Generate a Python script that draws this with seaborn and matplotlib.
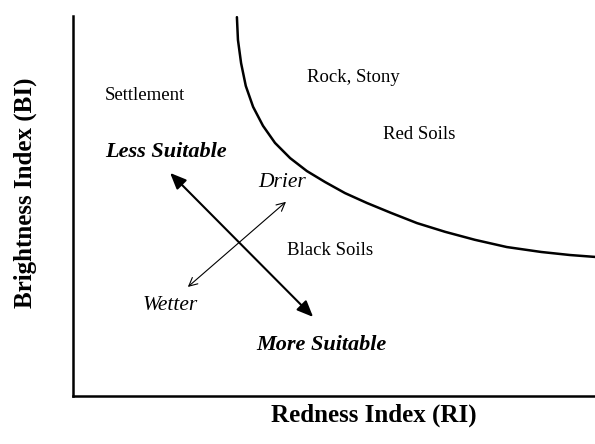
import matplotlib
matplotlib.use("Agg")
import matplotlib.pyplot as plt
import pandas as pd
import seaborn as sns

# ── Boundary curve (RI vs BI, 0-100 index units) ─────────────────────────────
curve_ri = [31.4, 31.6, 32.2, 33.1, 34.5, 36.4, 38.7, 41.6, 44.8, 48.3,
            52.1, 56.3, 60.9, 65.9, 71.3, 77.0, 83.1, 89.7, 95.2, 100.0]
curve_bi = [99.7, 93.7, 87.6, 81.6, 76.1, 71.1, 66.6, 62.6, 59.2, 56.3,
            53.4, 50.8, 48.2, 45.5, 43.2, 41.1, 39.2, 37.9, 37.1, 36.6]

# ── Arrows: suitability (thick) and moisture (thin) ──────────────────────────
suit_ri = [18.6, 46.0]
suit_bi = [58.7, 20.8]
moist_ri = [22.0, 40.8]
moist_bi = [28.7, 51.1]

# ── Region / direction labels ────────────────────────────────────────────────
labels = ["Settlement", "Rock, Stony", "Red Soils", "Black Soils",
          "Less Suitable", "More Suitable", "Drier", "Wetter"]
label_ri = [6.1, 44.8, 59.4, 41.0, 6.1, 35.2, 35.4, 13.4]
label_bi = [79.0, 83.9, 68.9, 38.4, 64.2, 13.4, 56.3, 23.9]

styles = {
    "Settlement": dict(fontsize=13.5),
    "Rock, Stony": dict(fontsize=13.5),
    "Red Soils": dict(fontsize=13.5),
    "Black Soils": dict(fontsize=13.5),
    "Less Suitable": dict(fontsize=16, fontweight="bold", fontstyle="italic"),
    "More Suitable": dict(fontsize=16, fontweight="bold", fontstyle="italic"),
    "Drier": dict(fontsize=15.5, fontstyle="italic"),
    "Wetter": dict(fontsize=15.5, fontstyle="italic"),
}

sns.set_theme(style="white")
plt.rcParams["font.family"] = ["Liberation Serif", "DejaVu Serif"]

fig = plt.figure(figsize=(5.95, 4.44), dpi=100)
ax = fig.add_axes([73 / 595, 48 / 444, 522 / 595, 380 / 444])

df = pd.DataFrame({"RI": curve_ri, "BI": curve_bi})
sns.lineplot(data=df, x="RI", y="BI", sort=False, color="black", linewidth=1.8,
             solid_joinstyle="round", solid_capstyle="round", ax=ax)

ax.annotate("", xy=(suit_ri[0], suit_bi[0]), xytext=(suit_ri[1], suit_bi[1]),
            arrowprops=dict(arrowstyle="<|-|>,head_length=0.75,head_width=0.32",
                            mutation_scale=13, color="black", lw=1.5,
                            shrinkA=0, shrinkB=0))
ax.annotate("", xy=(moist_ri[0], moist_bi[0]), xytext=(moist_ri[1], moist_bi[1]),
            arrowprops=dict(arrowstyle="<->,head_length=0.6,head_width=0.3",
                            mutation_scale=10, color="black", lw=0.8,
                            shrinkA=0, shrinkB=0))

for name, x, y in zip(labels, label_ri, label_bi):
    ax.text(x, y, name, ha="left", va="center", color="black", **styles[name])

ax.set_xlim(0, 100)
ax.set_ylim(0, 100)
ax.set_xticks([])
ax.set_yticks([])
for side in ("top", "right"):
    ax.spines[side].set_visible(False)
for side in ("left", "bottom"):
    ax.spines[side].set_color("black")
    ax.spines[side].set_linewidth(1.8)

ax.set_xlabel("Redness Index (RI)", fontsize=18, fontweight="bold", color="black")
ax.set_ylabel("Brightness Index (BI)", fontsize=18, fontweight="bold", color="black")
ax.xaxis.set_label_coords(0.577, -0.02)
ax.yaxis.set_label_coords(-0.069, 0.534)

fig.savefig("out.png", dpi=100, facecolor="white")
